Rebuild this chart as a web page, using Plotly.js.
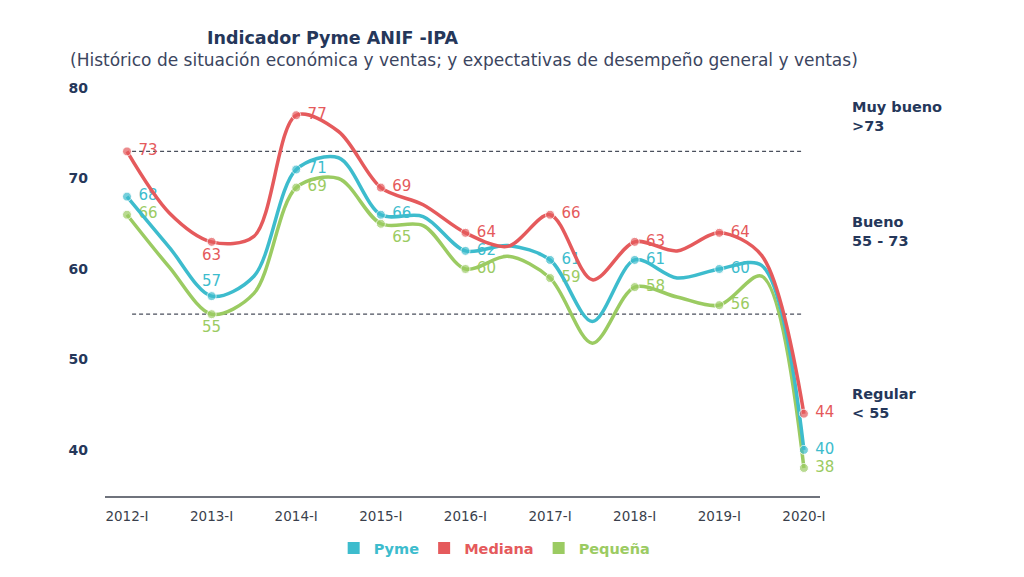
<!DOCTYPE html>
<html>
<head>
<meta charset="utf-8">
<script src="https://cdn.plot.ly/plotly-3.0.1.min.js"></script>
<style>
  body { margin: 0; background: #fff; }
  #plotDiv { width: 1024px; height: 577px; }
</style>
</head>
<body>
<div id="plotDiv"></div>
<script>
// Semiannual periods; only the "-I" points carry a marker and a label
const periods = [
  "2012-I", "2012-II", "2013-I", "2013-II", "2014-I", "2014-II",
  "2015-I", "2015-II", "2016-I", "2016-II", "2017-I", "2017-II",
  "2018-I", "2018-II", "2019-I", "2019-II", "2020-I",
];
const tickLabels = [
  "2012-I", "2013-I", "2014-I", "2015-I", "2016-I",
  "2017-I", "2018-I", "2019-I", "2020-I",
];

const pyme = [68, 62.4, 57, 59.2, 71, 72.3, 66, 65.8, 62, 62.6, 61, 54.2, 61, 59.0, 60, 60.4, 40];
const mediana = [73, 66.2, 63, 63.6, 77, 75.2, 69, 67.1, 64, 62.5, 66, 58.8, 63, 62.0, 64, 61.5, 44];
const pequena = [66, 60.2, 55, 57.3, 69, 70.0, 65, 64.8, 60, 61.4, 59, 51.8, 58, 56.9, 56, 59.2, 38];

const thresholds = [73, 55];

const colors = {
  pyme: "#3dbccd",
  mediana: "#e55a5c",
  pequena: "#9bcb62",
};
const navy = "#25375a";

// label position per yearly point
const posPyme = ["middle right", "top center", "middle right", "middle right", "middle right",
  "middle right", "middle right", "middle right", "middle right"];
const posMediana = ["middle right", "bottom center", "middle right", "middle right", "middle right",
  "middle right", "middle right", "middle right", "middle right"];
const posPequena = ["middle right", "bottom center", "middle right", "bottom right", "middle right",
  "middle right", "middle right", "middle right", "middle right"];

function seriesTrace(values, color, positions) {
  let sizes = [];
  let texts = [];
  let tpos = [];
  let k = 0;
  for (let i = 0; i < periods.length; i++) {
    let yearly = periods[i].endsWith("-I");
    sizes.push(yearly ? 9 : 0);
    let p = yearly ? positions[k++] : "middle right";
    let label = String(Math.round(values[i]));
    if (p.endsWith("right")) label = " " + label;
    texts.push(yearly ? label : "");
    tpos.push(p);
  }
  return {
    x: periods,
    y: values,
    type: "scatter",
    mode: "lines+markers+text",
    line: { color: color, width: 3.5, shape: "spline", smoothing: 0.9 },
    marker: { color: color, size: sizes },
    text: texts,
    textposition: tpos,
    textfont: { family: "DejaVu Sans", size: 15, color: color },
    showlegend: false,
    hoverinfo: "x+y",
    cliponaxis: false,
  };
}

function legendTrace(name, color) {
  return {
    x: [null],
    y: [null],
    type: "scatter",
    mode: "markers",
    marker: { symbol: "square", size: 12, color: color },
    name: `<span style="color:${color}"><b>${name}</b></span>`,
  };
}

let traces = [
  seriesTrace(pequena, colors.pequena, posPequena),
  seriesTrace(pyme, colors.pyme, posPyme),
  seriesTrace(mediana, colors.mediana, posMediana),
  legendTrace("Pyme", colors.pyme),
  legendTrace("Mediana", colors.mediana),
  legendTrace("Pequeña", colors.pequena),
];

let shapes = thresholds.map((t) => ({
  type: "line",
  xref: "x",
  yref: "y",
  x0: 0.12,
  x1: 15.95,
  y0: t,
  y1: t,
  line: { color: "#4a4f5c", width: 1.2, dash: "4px,3px" },
  layer: "below",
}));

let sideNotes = [
  { text: "<b>Muy bueno<br>>73</b>", y: 0.892 },
  { text: "<b>Bueno<br>55 - 73</b>", y: 0.620 },
  { text: "<b>Regular<br>< 55</b>", y: 0.218 },
];

let annotations = [
  {
    text: "<b>Indicador Pyme ANIF -IPA</b>",
    xref: "paper", yref: "paper",
    x: 0.14, y: 1.076,
    xanchor: "left", yanchor: "middle",
    showarrow: false,
    font: { family: "DejaVu Sans", size: 17.5, color: navy },
  },
  {
    text: "(Histórico de situación económica y ventas; y expectativas de desempeño general y ventas)",
    xref: "paper", yref: "paper",
    x: -0.052, y: 1.024,
    xanchor: "left", yanchor: "middle",
    showarrow: false,
    font: { family: "DejaVu Sans", size: 17, color: "#3b4560" },
  },
].concat(
  sideNotes.map((n) => ({
    text: n.text,
    xref: "paper", yref: "paper",
    x: 1.042, y: n.y,
    xanchor: "left", yanchor: "middle",
    align: "left",
    showarrow: false,
    font: { family: "DejaVu Sans", size: 14.5, color: navy },
  }))
);

let layout = {
  width: 1024,
  height: 577,
  margin: { l: 105, r: 204, t: 70, b: 81 },
  paper_bgcolor: "#ffffff",
  plot_bgcolor: "#ffffff",
  font: { family: "DejaVu Sans", color: navy },
  xaxis: {
    type: "category",
    range: [-0.52, 16.38],
    tickvals: tickLabels,
    ticktext: tickLabels,
    showgrid: false,
    zeroline: false,
    showline: true,
    linecolor: "#6f737c",
    linewidth: 2,
    ticks: "",
    ticklabelstandoff: 7,
    tickfont: { family: "DejaVu Sans", size: 13.5, color: "#3a3f4c" },
  },
  yaxis: {
    range: [34.9, 82],
    tickvals: [40, 50, 60, 70, 80],
    showgrid: false,
    zeroline: false,
    showline: false,
    ticks: "",
    ticklabelstandoff: 16,
    tickfont: { family: "DejaVu Sans", size: 14, color: navy, weight: "bold" },
  },
  shapes: shapes,
  annotations: annotations,
  showlegend: true,
  legend: {
    orientation: "h",
    x: 0.545,
    xanchor: "center",
    y: -0.122,
    yanchor: "middle",
    itemwidth: 30,
    font: { family: "DejaVu Sans", size: 14.5 },
    bgcolor: "rgba(0,0,0,0)",
  },
};

Plotly.newPlot("plotDiv", traces, layout, { displayModeBar: false });
</script>
</body>
</html>
